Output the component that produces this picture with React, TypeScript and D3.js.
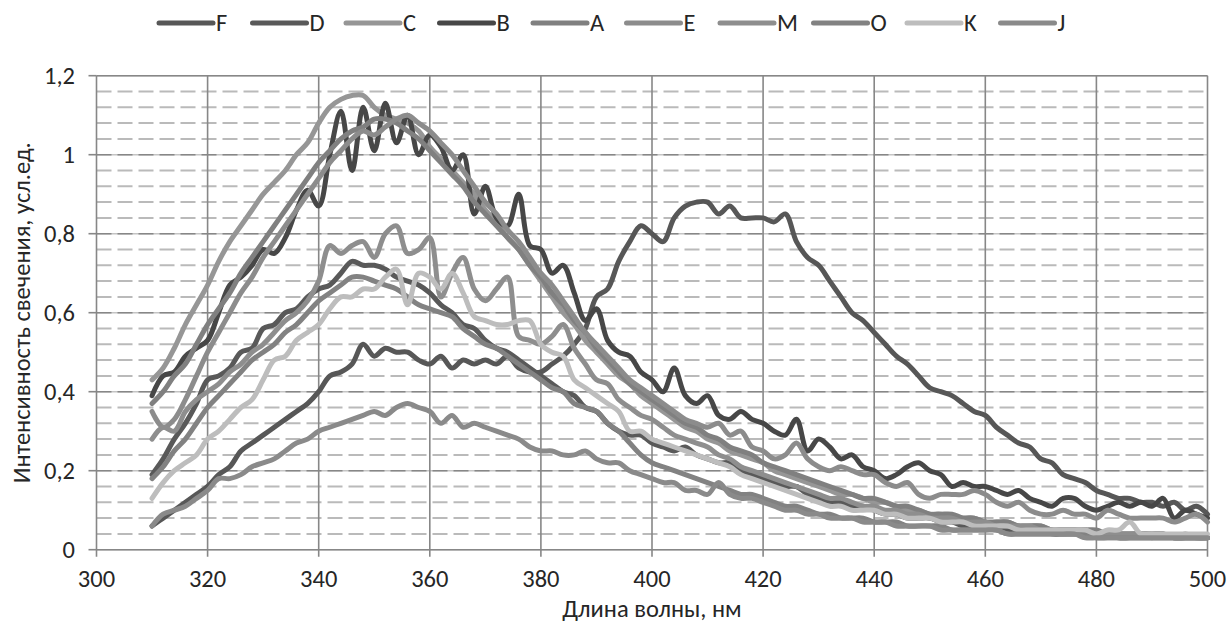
import React from 'react';
import * as d3 from 'd3';

// wavelength grid of the measured spectra, nm
const wavelengths = d3.range(310, 501, 2);

const seriesF = [
  .06, .08, .10, .12, .14, .16, .19, .21, .25, .27,
  .29, .31, .33, .35, .37, .40, .44, .45, .47, .52,
  .49, .51, .50, .50, .48, .47, .49, .46, .48, .47,
  .48, .47, .49, .46, .45, .45, .47, .49, .52, .56,
  .64, .66, .73, .78, .82, .80, .78, .84, .87, .88,
  .88, .85, .87, .84, .84, .84, .83, .85, .78, .74,
  .72, .68, .64, .60, .58, .55, .52, .49, .47, .44,
  .41, .40, .39, .37, .35, .34, .31, .29, .27, .26,
  .23, .22, .19, .18, .17, .15, .14, .13, .13, .12,
  .12, .11, .12, .10, .11, .09,
];
const seriesD = [
  .19, .23, .28, .32, .37, .43, .44, .46, .50, .51,
  .56, .57, .60, .61, .64, .66, .67, .70, .73, .72,
  .72, .71, .69, .68, .67, .65, .62, .60, .57, .56,
  .53, .51, .50, .48, .46, .44, .42, .40, .39, .36,
  .35, .32, .30, .29, .29, .27, .26, .25, .26, .24,
  .23, .22, .22, .20, .19, .18, .17, .16, .16, .14,
  .13, .12, .12, .11, .11, .10, .09, .09, .08, .08,
  .08, .07, .07, .06, .06, .06, .06, .05, .05, .05,
  .05, .04, .04, .04, .04, .04, .04, .03, .03, .03,
  .03, .03, .03, .03, .03, .03,
];
const seriesC = [
  .43, .46, .51, .57, .62, .67, .73, .78, .82, .86,
  .90, .93, .96, 1.00, 1.03, 1.08, 1.12, 1.14, 1.15, 1.15,
  1.12, 1.10, 1.09, 1.08, 1.06, 1.02, .99, .96, .93, .90,
  .86, .83, .79, .76, .72, .68, .64, .60, .57, .53,
  .50, .47, .44, .42, .39, .37, .35, .33, .31, .30,
  .28, .27, .25, .24, .23, .22, .20, .19, .18, .17,
  .16, .15, .14, .14, .13, .12, .12, .11, .10, .10,
  .09, .09, .08, .08, .08, .07, .07, .07, .06, .06,
  .06, .05, .05, .05, .05, .04, .04, .04, .04, .04,
  .03, .04, .03, .03, .03, .03,
];
const seriesB = [
  .39, .44, .45, .49, .51, .53, .60, .67, .69, .72,
  .76, .75, .79, .86, .91, .87, 1.00, 1.11, .96, 1.12,
  1.01, 1.13, 1.03, 1.10, 1.00, 1.05, 1.02, .96, 1.00, .85,
  .92, .84, .82, .90, .77, .76, .70, .72, .65, .58,
  .61, .53, .50, .49, .45, .43, .40, .46, .39, .37,
  .39, .34, .33, .35, .33, .32, .30, .29, .33, .25,
  .28, .26, .23, .24, .21, .20, .18, .19, .21, .22,
  .20, .19, .16, .17, .16, .16, .15, .14, .15, .13,
  .12, .11, .13, .13, .11, .10, .11, .12, .11, .12,
  .11, .13, .08, .10, .09, .08,
];
const seriesA = [
  .37, .40, .44, .47, .52, .57, .61, .65, .70, .74,
  .78, .82, .86, .90, .94, .98, 1.01, 1.04, 1.06, 1.07,
  1.09, 1.09, 1.08, 1.06, 1.04, 1.01, .98, .95, .92, .88,
  .85, .82, .79, .76, .72, .69, .65, .62, .58, .55,
  .51, .48, .45, .42, .40, .38, .36, .34, .32, .31,
  .29, .28, .26, .25, .24, .22, .21, .20, .19, .18,
  .17, .16, .15, .14, .13, .13, .12, .11, .11, .10,
  .09, .09, .09, .08, .08, .07, .07, .07, .06, .06,
  .06, .05, .05, .05, .05, .05, .04, .04, .04, .04,
  .04, .04, .03, .03, .03, .03,
];
const seriesE = [
  .35, .31, .33, .38, .44, .50, .55, .60, .65, .69,
  .74, .78, .82, .86, .90, .94, .98, 1.01, 1.04, 1.06,
  1.05, 1.07, 1.09, 1.10, 1.08, 1.06, 1.03, 1.00, .96, .92,
  .88, .85, .81, .78, .74, .70, .67, .63, .59, .55,
  .52, .49, .46, .43, .41, .39, .37, .35, .33, .32,
  .31, .32, .29, .30, .26, .25, .23, .24, .27, .23,
  .21, .20, .21, .20, .19, .19, .17, .16, .17, .14,
  .13, .14, .14, .14, .15, .14, .12, .11, .12, .10,
  .09, .09, .10, .09, .09, .08, .10, .09, .08, .08,
  .08, .08, .07, .08, .09, .07,
];
const seriesM = [
  .28, .31, .30, .35, .38, .40, .42, .45, .47, .50,
  .52, .55, .58, .60, .63, .68, .77, .75, .77, .78,
  .74, .80, .82, .75, .76, .79, .64, .70, .74, .66,
  .63, .66, .69, .54, .53, .52, .54, .57, .51, .47,
  .43, .42, .38, .36, .34, .33, .31, .29, .28, .27,
  .26, .24, .23, .21, .20, .19, .18, .17, .16, .15,
  .14, .13, .13, .12, .11, .11, .10, .10, .09, .09,
  .08, .08, .08, .07, .07, .07, .06, .06, .06, .06,
  .05, .05, .05, .05, .05, .04, .04, .04, .04, .04,
  .04, .04, .03, .04, .03, .03,
];
const seriesO = [
  .18, .21, .25, .28, .32, .36, .39, .42, .45, .48,
  .50, .52, .55, .57, .60, .63, .65, .67, .69, .69,
  .68, .67, .66, .64, .62, .61, .60, .59, .56, .54,
  .52, .51, .49, .47, .45, .43, .41, .40, .37, .36,
  .35, .32, .30, .27, .24, .22, .21, .20, .19, .18,
  .17, .16, .15, .14, .14, .13, .12, .11, .11, .10,
  .09, .09, .08, .08, .08, .07, .07, .07, .06, .06,
  .06, .06, .05, .05, .05, .05, .05, .04, .04, .04,
  .04, .04, .04, .04, .04, .03, .03, .03, .03, .03,
  .03, .03, .03, .03, .03, .03,
];
const seriesK = [
  .13, .17, .20, .22, .24, .28, .30, .33, .36, .38,
  .43, .48, .49, .53, .55, .57, .61, .64, .64, .66,
  .66, .69, .71, .62, .70, .69, .66, .70, .65, .59,
  .58, .57, .57, .58, .58, .52, .50, .49, .43, .41,
  .39, .37, .35, .30, .30, .28, .27, .26, .25, .24,
  .23, .22, .21, .19, .18, .17, .16, .15, .14, .13,
  .12, .11, .11, .10, .10, .10, .09, .09, .08, .08,
  .08, .07, .07, .07, .06, .06, .06, .06, .05, .05,
  .05, .05, .05, .05, .05, .04, .05, .05, .07, .04,
  .04, .04, .04, .04, .04, .04,
];
const seriesJ = [
  .06, .09, .10, .11, .13, .15, .18, .18, .19, .21,
  .22, .23, .25, .27, .28, .30, .31, .32, .33, .34,
  .35, .34, .36, .37, .36, .35, .32, .34, .31, .32,
  .31, .30, .29, .28, .26, .25, .25, .24, .24, .25,
  .23, .22, .22, .20, .19, .18, .17, .17, .15, .15,
  .14, .17, .14, .13, .13, .12, .11, .10, .10, .09,
  .09, .08, .08, .08, .07, .07, .07, .06, .06, .06,
  .06, .05, .05, .05, .05, .05, .05, .04, .04, .04,
  .04, .04, .04, .04, .03, .03, .03, .03, .03, .03,
  .03, .03, .03, .03, .03, .03,
];

const seriesNames = ['F', 'D', 'C', 'B', 'A', 'E', 'M', 'O', 'K', 'J'];
const seriesValues = [seriesF, seriesD, seriesC, seriesB, seriesA, seriesE, seriesM, seriesO, seriesK, seriesJ];
const seriesColors = ['#575757', '#595959', '#969696', '#474747', '#808080', '#8c8c8c', '#8e8e8e', '#828282', '#bdbdbd', '#8a8a8a'];

const xTicks = [300, 320, 340, 360, 380, 400, 420, 440, 460, 480, 500];
const yTicks = [0, 0.2, 0.4, 0.6, 0.8, 1, 1.2];
const yTickLabels = ['0', '0,2', '0,4', '0,6', '0,8', '1', '1,2'];
const yMinorStep = 0.04;

const xTitle = 'Длина волны, нм';
const yTitle = 'Интенсивность свечения, усл.ед.';

const App: React.FC = () => {
  const width = 1228;
  const height = 631;
  const plot = { left: 96.5, right: 1207.5, top: 75.7, bottom: 549.7 };
  const font = 'Carlito, Calibri, Lato, sans-serif';
  const fontSize = 24.5;

  const xScale = d3.scaleLinear().domain([300, 500]).range([plot.left, plot.right]);
  const yScale = d3.scaleLinear().domain([0, 1.2]).range([plot.bottom, plot.top]);

  const minorTicks = d3.range(0, 1.2 + 1e-9, yMinorStep).filter(
    (v) => !yTicks.some((t) => Math.abs(t - v) < 1e-6)
  );

  const line = d3
    .line<number>()
    .x((_, i) => xScale(wavelengths[i]))
    .y((d) => yScale(d))
    .curve(d3.curveCatmullRom.alpha(0.5));

  const legendX0 = 159;
  const legendStep = 93.5;
  const legendY = 23;

  return (
    <svg
      width={width}
      height={height}
      viewBox={`0 0 ${width} ${height}`}
      style={{ position: 'absolute', left: 0, top: 0, background: '#fff' }}
      fontFamily={font}
    >
      <rect x={0} y={0} width={width} height={height} fill="#fff" />

      {/* minor horizontal gridlines */}
      <g>
        {minorTicks.map((t) => (
          <line
            key={`mn-${t.toFixed(2)}`}
            x1={plot.left}
            x2={plot.right}
            y1={yScale(t)}
            y2={yScale(t)}
            stroke="#bababa"
            strokeWidth={2}
            strokeDasharray="15,6"
          />
        ))}
      </g>

      {/* major horizontal gridlines */}
      <g>
        {yTicks.map((t) => (
          <g key={`mj-${t}`}>
            <line x1={plot.left} x2={plot.right} y1={yScale(t)} y2={yScale(t)} stroke="#c4c4c4" strokeWidth={1.5} />
            <line
              x1={plot.left}
              x2={plot.right}
              y1={yScale(t)}
              y2={yScale(t)}
              stroke="#878787"
              strokeWidth={1.6}
              strokeDasharray={t === 1.2 || t === 0 ? undefined : '15,6'}
            />
            <line x1={plot.left - 8} x2={plot.left} y1={yScale(t)} y2={yScale(t)} stroke="#878787" strokeWidth={1.6} />
          </g>
        ))}
      </g>

      {/* vertical gridlines + ticks */}
      <g>
        {xTicks.map((t) => (
          <line
            key={`vx-${t}`}
            x1={xScale(t)}
            x2={xScale(t)}
            y1={plot.top}
            y2={plot.bottom + 7}
            stroke="#878787"
            strokeWidth={1.6}
          />
        ))}
      </g>

      {/* series */}
      <g fill="none" strokeLinejoin="round" strokeLinecap="round">
        {seriesValues.map((vals, i) => (
          <path key={seriesNames[i]} d={line(vals) || ''} stroke={seriesColors[i]} strokeWidth={5} />
        ))}
      </g>

      {/* tick labels */}
      <g fontSize={fontSize} fill="#262626">
        {yTicks.map((t, i) => (
          <text key={`yl-${t}`} x={75} y={yScale(t)} dy="0.33em" textAnchor="end">
            {yTickLabels[i]}
          </text>
        ))}
        {xTicks.map((t) => (
          <text key={`xl-${t}`} x={xScale(t)} y={587} textAnchor="middle">
            {t}
          </text>
        ))}
      </g>

      {/* axis titles */}
      <text x={(plot.left + plot.right) / 2} y={617} textAnchor="middle" fontSize={fontSize} fill="#262626">
        {xTitle}
      </text>
      <text
        transform={`translate(30, ${(plot.top + plot.bottom) / 2}) rotate(-90)`}
        textAnchor="middle"
        fontSize={fontSize}
        fill="#262626"
      >
        {yTitle}
      </text>

      {/* legend */}
      <g fontSize={fontSize} fill="#262626">
        {seriesNames.map((name, i) => {
          const x = legendX0 + i * legendStep;
          return (
            <g key={`lg-${name}`}>
              <line x1={x} x2={x + 54} y1={legendY} y2={legendY} stroke={seriesColors[i]} strokeWidth={5} strokeLinecap="round" />
              <text x={x + 57} y={legendY} dy="0.33em">
                {name}
              </text>
            </g>
          );
        })}
      </g>
    </svg>
  );
};

export default App;
